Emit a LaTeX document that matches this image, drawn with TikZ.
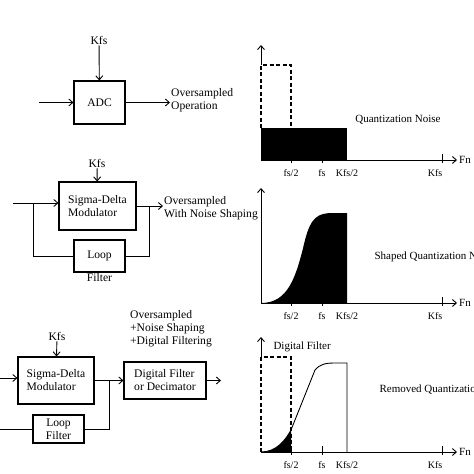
\documentclass[tikz,border=0pt]{standalone}
\usepackage{fontspec}
\setmainfont{Liberation Serif}
\usetikzlibrary{arrows.meta, positioning, calc}
\newcommand\diagfont{\fontsize{11.6}{13}\selectfont}
\newcommand\plotfont{\fontsize{11}{13}\selectfont}
\newcommand\tickfont{\fontsize{10}{12}\selectfont}

\begin{document}
\begin{tikzpicture}[x=1pt, y=-1pt,
    box/.style={draw, line width=1.1pt, align=left, inner sep=0pt, font=\diagfont},
    arr/.style={-{Straight Barb[length=4pt,width=7pt]}, line width=0.9pt},
    wire/.style={line width=0.9pt},
    dash box/.style={dash pattern=on 4pt off 2.5pt, line width=1.1pt},
    txt/.style={align=left, inner sep=1pt, font=\diagfont}]
  \clip (0,0) rectangle (474,474);
  % plain ADC
  \node[box, minimum width=51pt, minimum height=43pt] (adc) at (99.5,102.5) {ADC};
  \node[txt] (kfsa) at (99,40) {Kfs};
  \coordinate (ina) at (39,102.5);
  \node[txt, anchor=west] (outa) at (170,100) {Oversampled\\Operation};
  \draw[arr] (kfsa) -- (adc);
  \draw[arr] (ina) -- (adc);
  \draw[arr] (adc.east) -- (adc.east -| outa.west);

  % sigma-delta with loop filter
  \node[box, minimum width=77pt, minimum height=48pt] (sda) at (97.5,206) {Sigma-Delta\\Modulator};
  \node[txt] (kfsb) at (97,163) {Kfs};
  \node[box, minimum width=51pt, minimum height=32pt,
        label={[font=\diagfont, inner sep=1pt]below:Filter}] (lfa) at (99.5,256) {Loop};
  \coordinate (inb) at (13,203);
  \coordinate (brb) at (33,203);
  \coordinate (jnb) at (149,206);
  \node[txt, anchor=west] (outb) at (163,208) {Oversampled\\With Noise Shaping};
  \draw[arr] (kfsb) -- (sda);
  \draw[arr] (inb) -- (inb -| sda.west);
  \draw[wire] (brb) |- (lfa.west);
  \draw[arr] (sda.east) -- (jnb -| outb.west);
  \draw[wire] (lfa.east) -| (jnb);

  % sigma-delta + decimator
  \node[box, minimum width=76pt, minimum height=47pt] (sdb) at (56,380.5) {Sigma-Delta\\Modulator};
  \node[txt] (kfsc) at (57,336) {Kfs};
  \node[box, align=center, minimum width=51pt, minimum height=28pt] (lfb) at (58.5,429) {Loop\\Filter};
  \node[box, minimum width=82pt, minimum height=37pt] (dec) at (165,380.5) {Digital Filter\\or Decimator};
  \node[txt, anchor=west] (outc) at (129,329) {Oversampled\\+Noise Shaping\\+Digital Filtering};
  \coordinate (inc) at (0,378);
  \coordinate (inl) at (0,429);
  \coordinate (jnc) at (109,380.5);
  \coordinate (outd) at (221,380.5);
  \draw[arr] (kfsc) -- (sdb);
  \draw[arr] (inc) -- (inc -| sdb.west);
  \draw[wire] (inl) -- (lfb);
  \draw[arr] (sdb) -- (dec);
  \draw[wire] (lfb.east) -| (jnc);
  \draw[arr] (dec) -- (outd);

  % spectra
  \fill (261,128) rectangle (347,160);
  \draw[dash box] (261,128) -- (261,65) -- (291,65) -- (291,128);
  \fill (261,303) .. controls (288,303) and (296,278) .. (305,240)
        .. controls (311,217) and (318,213) .. (333,213) -- (347,213) -- (347,303) -- cycle;
  \fill (261,452) .. controls (276,452) and (285,441) .. (291,430) -- (291,452) -- cycle;
  \draw[wire] (261,452) .. controls (276,452) and (285,441) .. (291,430) -- (315,370)
        .. controls (320,364) and (326,363) .. (335,363) -- (347,363) -- (347,452);
  \draw[dash box] (261,452) -- (261,357) -- (291,357) -- (291,452);
  \foreach \oy/\top/\ys in {160/45/65, 303/188/303, 452/337/357} {
    \draw[arr] (261,\ys) -- (261,\top);
    \draw[arr] (261,\oy) -- (457,\oy);
    \foreach \tx in {291,322,442}
      \draw[wire] (\tx,\oy-6) -- (\tx,\oy+3);
    \node[font=\tickfont] (fsh\oy) at (291,\oy+13) {fs/2};
    \node[font=\tickfont] (fs\oy) at (322,\oy+13) {fs};
    \node[font=\tickfont] (kfh\oy) at (347,\oy+13) {Kfs/2};
    \node[font=\tickfont] (kf\oy) at (435,\oy+13) {Kfs};
    \node[font=\plotfont, anchor=west, inner sep=1pt] (fn\oy) at (458,\oy) {Fn};
  }
  \node[font=\plotfont] (qn) at (398,120) {Quantization Noise};
  \node[font=\plotfont, anchor=west] (sq) at (371,257) {Shaped Quantization Noise};
  \node[font=\plotfont, anchor=west] (rq) at (376,390) {Removed Quantization Noise};
  \node[font=\plotfont, anchor=west] (dfl) at (270,347) {Digital Filter};
\end{tikzpicture}
\end{document}
